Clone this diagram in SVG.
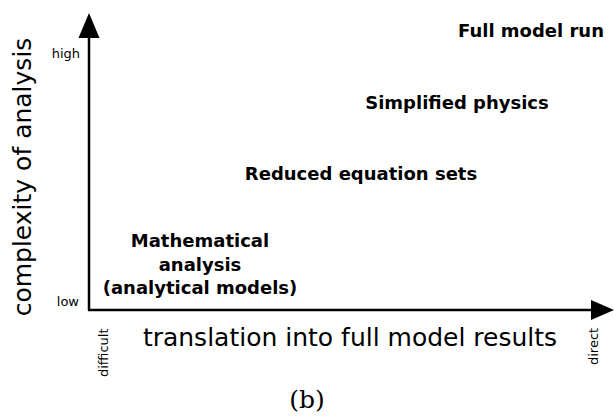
<svg xmlns="http://www.w3.org/2000/svg" width="614" height="420" viewBox="0 0 614 420">
<style>
.lbl{font-family:"DejaVu Sans",sans-serif;font-weight:bold;font-size:18px;fill:#000}
.ax{font-family:"DejaVu Sans",sans-serif;font-size:25px;fill:#000}
.sm{font-family:"DejaVu Sans",sans-serif;font-size:13px;fill:#000}
</style>
<rect width="614" height="420" fill="#fff"/>
<g id="connectors">
<line x1="89" y1="310" x2="89" y2="34" stroke="#000" stroke-width="2.5"/>
<polygon points="89,13 99.5,38 78.5,38" fill="#000"/>
<line x1="88" y1="310" x2="594" y2="310" stroke="#000" stroke-width="2.5"/>
<polygon points="614,310 591,300 591,320" fill="#000"/>
</g>
<g id="axis-labels">
<text class="ax" transform="translate(31,177) rotate(-90)" text-anchor="middle">complexity of analysis</text>
<text class="ax" x="350" y="346" text-anchor="middle">translation into full model results</text>
<text class="sm" x="80" y="58" text-anchor="end">high</text>
<text class="sm" x="79" y="306" text-anchor="end">low</text>
<text class="sm" transform="translate(108,377) rotate(-90)">difficult</text>
<text class="sm" transform="translate(598,365) rotate(-90)">direct</text>
</g>
<g id="full"><text class="lbl" x="531" y="37" text-anchor="middle">Full model run</text></g>
<g id="simplified"><text class="lbl" x="457" y="109" text-anchor="middle">Simplified physics</text></g>
<g id="reduced"><text class="lbl" x="361" y="180" text-anchor="middle">Reduced equation sets</text></g>
<g id="math">
<text class="lbl" x="200" y="247" text-anchor="middle">Mathematical</text>
<text class="lbl" x="200" y="271" text-anchor="middle">analysis</text>
<text class="lbl" x="200" y="294" text-anchor="middle">(analytical models)</text>
</g>
<text x="307" y="408" text-anchor="middle" font-family="'DejaVu Serif',serif" font-size="25">(b)</text>
</svg>
